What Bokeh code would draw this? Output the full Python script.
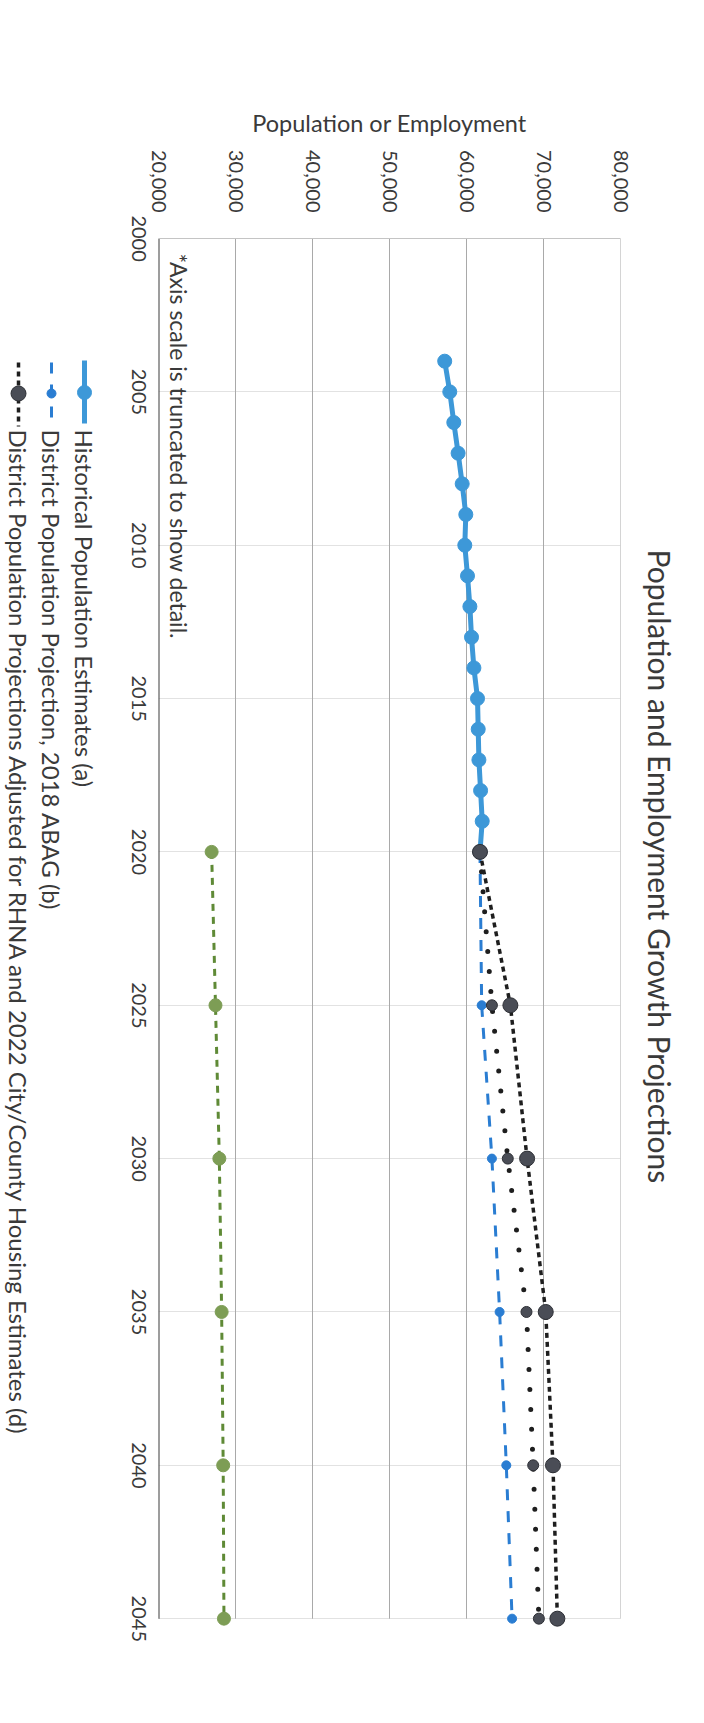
import math
from bokeh.plotting import figure
from bokeh.models import Range1d, FixedTicker, NumeralTickFormatter, Label, CustomJSTickFormatter
from bokeh.layouts import row
from bokeh.embed import file_html
from bokeh.resources import INLINE

# ---------------- data ----------------
hist_years = list(range(2004, 2021))
hist_pop = [57170, 57830, 58350, 58910, 59440, 59910, 59780, 60130, 60440,
            60650, 60960, 61430, 61520, 61610, 61830, 62040, 61750]

proj_years = [2020, 2025, 2030, 2035, 2040, 2045]
abag_pop = [61750, 61970, 63300, 64300, 65170, 65920]       # (b)
adj_low_pop = [61750, 63300, 65360, 67790, 68660, 69400]    # dotted dark series
adj_pop = [61750, 65700, 67870, 70290, 71230, 71800]        # (d)
emp = [26900, 27400, 27900, 28200, 28400, 28500]            # green series

pop_ticks = [20000, 30000, 40000, 50000, 60000, 70000, 80000]
year_ticks = [2000, 2005, 2010, 2015, 2020, 2025, 2030, 2035, 2040, 2045]

title_text = "Population and Employment Growth Projections"
axis_title = "Population or Employment"
note_text = "*Axis scale is truncated to show detail."
legend_labels = [
    "Historical Population Estimates (a)",
    "District Population Projection, 2018 ABAG (b)",
    "District Population Projections Adjusted for RHNA and 2022 City/County Housing Estimates (d)",
]

# ---------------- style ----------------
FONT = "Lato"
TXT = "#3a3a3a"
HIST_C = "#3d98d8"
ABAG_C = "#2a7dd2"
DARK_C = "#4a4d56"
DARK_L = "#1e1e1e"
GREEN_C = "#7d9d55"
GREEN_L = "#5f8a36"
H = 1707
TOP, BOTTOM = 238, 64           # frame borders shared by all three panels
YEAR_LABEL_SHIFT = 0.76         # rotated labels are end-anchored; shift to centre them
Y_FIRST, Y_LAST = year_ticks[0], year_ticks[-1]

# ---------------- main figure ----------------
p = figure(width=538, height=H, output_backend="svg", toolbar_location=None,
           x_range=Range1d(pop_ticks[0], pop_ticks[-1]),
           y_range=Range1d(Y_LAST + YEAR_LABEL_SHIFT + 0.05, Y_FIRST),
           x_axis_location="above", y_axis_location="left",
           min_border_left=58, min_border_right=18,
           min_border_top=TOP, min_border_bottom=BOTTOM)
p.outline_line_color = None

xa = p.xaxis[0]
xa.ticker = FixedTicker(ticks=pop_ticks)
xa.formatter = NumeralTickFormatter(format="0,0")
xa.major_label_orientation = -math.pi / 2
xa.major_label_text_font = FONT
xa.major_label_text_font_size = "20px"
xa.major_label_text_color = TXT
xa.major_label_standoff = 26
xa.major_tick_in = 0
xa.major_tick_out = 0
xa.minor_tick_in = 0
xa.minor_tick_out = 0
xa.axis_line_color = "#c4c4c4"
xa.axis_label = axis_title
xa.axis_label_text_font = FONT
xa.axis_label_text_font_size = "23.5px"
xa.axis_label_text_font_style = "normal"
xa.axis_label_text_color = TXT
xa.axis_label_standoff = 10

ya = p.yaxis[0]
ya.ticker = FixedTicker(ticks=[y + YEAR_LABEL_SHIFT for y in year_ticks])
ya.formatter = CustomJSTickFormatter(args=dict(s=YEAR_LABEL_SHIFT),
                                     code="return (tick - s).toFixed(0);")
ya.major_label_orientation = -math.pi / 2
ya.major_label_text_font = FONT
ya.major_label_text_font_size = "20px"
ya.major_label_text_color = TXT
ya.major_label_standoff = 20
ya.major_tick_in = 0
ya.major_tick_out = 0
ya.minor_tick_in = 0
ya.minor_tick_out = 0
ya.axis_line_color = None

p.xgrid.visible = False
p.ygrid.ticker = FixedTicker(ticks=year_ticks)
p.ygrid.grid_line_color = "#e2e2e2"
p.ygrid.grid_line_width = 1.2

# value gridlines (limited to the year span) and the year axis line
n = len(pop_ticks) - 1
p.segment(x0=pop_ticks[1:], y0=[Y_FIRST] * n, x1=pop_ticks[1:], y1=[Y_LAST] * n,
          line_color="#a9a9a9", line_width=1)
p.segment(x0=[pop_ticks[0]], y0=[Y_FIRST], x1=[pop_ticks[0]], y1=[Y_LAST],
          line_color="#3c3c3c", line_width=2)

# employment (green)
p.line(emp, proj_years, line_color=GREEN_L, line_width=3, line_dash="7 6")
p.scatter(emp, proj_years, size=13, fill_color=GREEN_C, line_color=GREEN_C)

# historical
p.line(hist_pop, hist_years, line_color=HIST_C, line_width=5)
p.scatter(hist_pop, hist_years, size=14, fill_color=HIST_C, line_color=HIST_C)

# ABAG projection (b)
p.line(abag_pop, proj_years, line_color=ABAG_C, line_width=3, line_dash="11 11")
p.scatter(abag_pop, proj_years, size=9, fill_color=ABAG_C, line_color=ABAG_C)

# dotted dark projection
p.line(adj_low_pop, proj_years, line_color=DARK_L, line_width=5, line_dash="0 20",
       line_cap="round")
p.scatter(adj_low_pop, proj_years, size=11, fill_color=DARK_C, line_color="#2e3036")

# adjusted projection (d)
p.line(adj_pop, proj_years, line_color=DARK_L, line_width=3.5, line_dash="5 4")
p.scatter(adj_pop, proj_years, size=15, fill_color=DARK_C, line_color="#2e3036")

p.add_layout(Label(x=22600, y=2000.49, text=note_text, angle=-math.pi / 2,
                   text_align="left", text_baseline="middle",
                   text_font=FONT, text_font_size="23px", text_color=TXT))


def side_panel(width):
    """Side column whose frame is aligned with the main frame; y in page pixels."""
    f = figure(width=width, height=H, output_backend="svg", toolbar_location=None,
               x_range=Range1d(0, width), y_range=Range1d(H - BOTTOM, TOP),
               x_axis_location=None, y_axis_location=None,
               min_border_left=0, min_border_right=0,
               min_border_top=TOP, min_border_bottom=BOTTOM)
    f.grid.visible = False
    f.outline_line_color = None
    return f


# ---------------- legend column (left) ----------------
lg = side_panel(100)
ex = [84, 51, 18]
lg.line([ex[0], ex[0]], [360, 423], line_color=HIST_C, line_width=5)
lg.scatter([ex[0]], [392], size=14, fill_color=HIST_C, line_color=HIST_C)
lg.line([ex[1], ex[1]], [362, 426], line_color=ABAG_C, line_width=3, line_dash="11 11")
lg.scatter([ex[1]], [393], size=9, fill_color=ABAG_C, line_color=ABAG_C)
lg.line([ex[2], ex[2]], [362, 426], line_color=DARK_L, line_width=3.5, line_dash="5 4")
lg.scatter([ex[2]], [393], size=15, fill_color=DARK_C, line_color="#2e3036")

for x, t in zip(ex, legend_labels):
    lg.add_layout(Label(x=x, y=429, text=t, angle=-math.pi / 2,
                        text_align="left", text_baseline="middle",
                        text_font=FONT, text_font_size="24px", text_color=TXT))

# ---------------- title column (right) ----------------
tf = side_panel(58)
tf.add_layout(Label(x=21, y=549, text=title_text, angle=-math.pi / 2,
                    text_align="left", text_baseline="middle",
                    text_font=FONT, text_font_size="30px", text_color=TXT))

layout = row(lg, p, tf)
open("out.html", "w").write(file_html(layout, INLINE))
